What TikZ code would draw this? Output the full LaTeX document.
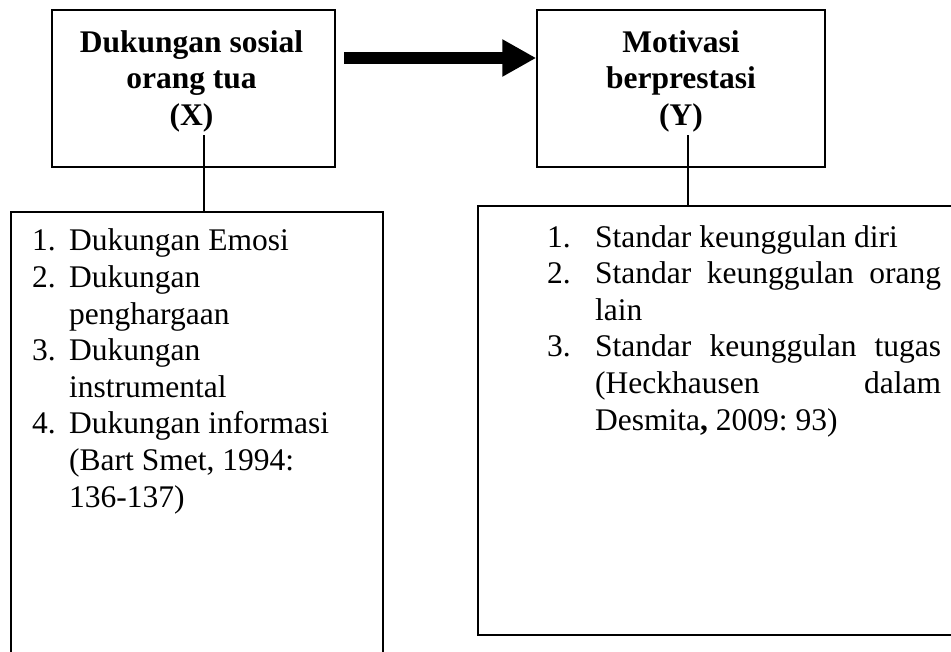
\documentclass[tikz,border=0pt]{standalone}
\usepackage{fontspec}
\setmainfont{Liberation Serif}
\usetikzlibrary{arrows.meta}
\frenchspacing
\begin{document}
\begin{tikzpicture}[x=1pt,y=-1pt,
  frame/.style={draw=black, line width=1.5pt, rectangle, inner sep=0pt},
  head/.style={font=\fontsize{31.5}{36.5}\selectfont\bfseries, align=center, inner sep=0pt, anchor=base},
  items/.style={font=\fontsize{31.5}{36.6}\selectfont, align=left, inner sep=0pt, anchor=base west},
  link/.style={draw=black, line width=1.5pt},
  bigarrow/.style={draw=black, line width=12pt, -{Triangle[length=34pt,width=35pt]}}]
\useasboundingbox (0,0) rectangle (951,651);
\clip (0,0) rectangle (951,651);
% upper boxes
\node[frame, minimum width=283pt, minimum height=157pt] (bx) at (193.5,88.5) {};
\node[frame, minimum width=288pt, minimum height=157pt] (by) at (681,88.5) {};
\node[head] (tx) at (191.5,125) {Dukungan sosial\\orang tua\\(X)};
\node[head] (ty) at (681,125) {Motivasi\\berprestasi\\(Y)};
% lower boxes
\node[frame, minimum width=372pt, minimum height=480pt] (lb) at (197,452) {};
\node[frame, minimum width=490pt, minimum height=429pt] (rb) at (723,420.5) {};
% arrow
\coordinate (as) at (344,58);
\draw[bigarrow] (as) -- (as -| by.west);
% connectors
\coordinate (xa) at (204,135);
\coordinate (ya) at (688,135);
\draw[link] (xa) -- (xa |- lb.north);
\draw[link] (ya) -- (ya |- rb.north);
% lists
\node[items] (lx) at (32,507) {\makebox[37pt][l]{1.}Dukungan Emosi\\
\makebox[37pt][l]{2.}Dukungan\\
\hspace*{37pt}penghargaan\\
\makebox[37pt][l]{3.}Dukungan\\
\hspace*{37pt}instrumental\\
\makebox[37pt][l]{4.}Dukungan informasi\\
\hspace*{37pt}(Bart Smet, 1994:\\
\hspace*{37pt}136-137)};
\node[items] (ly) at (547,430) {\makebox[48pt][l]{1.}Standar keunggulan diri\\
\makebox[48pt][l]{2.}\makebox[346pt][s]{Standar keunggulan orang}\\
\hspace*{48pt}lain\\
\makebox[48pt][l]{3.}\makebox[346pt][s]{Standar keunggulan tugas}\\
\hspace*{48pt}\makebox[346pt][s]{(Heckhausen dalam}\\
\hspace*{48pt}Desmita\textbf{,} 2009: 93)};
\end{tikzpicture}
\end{document}
